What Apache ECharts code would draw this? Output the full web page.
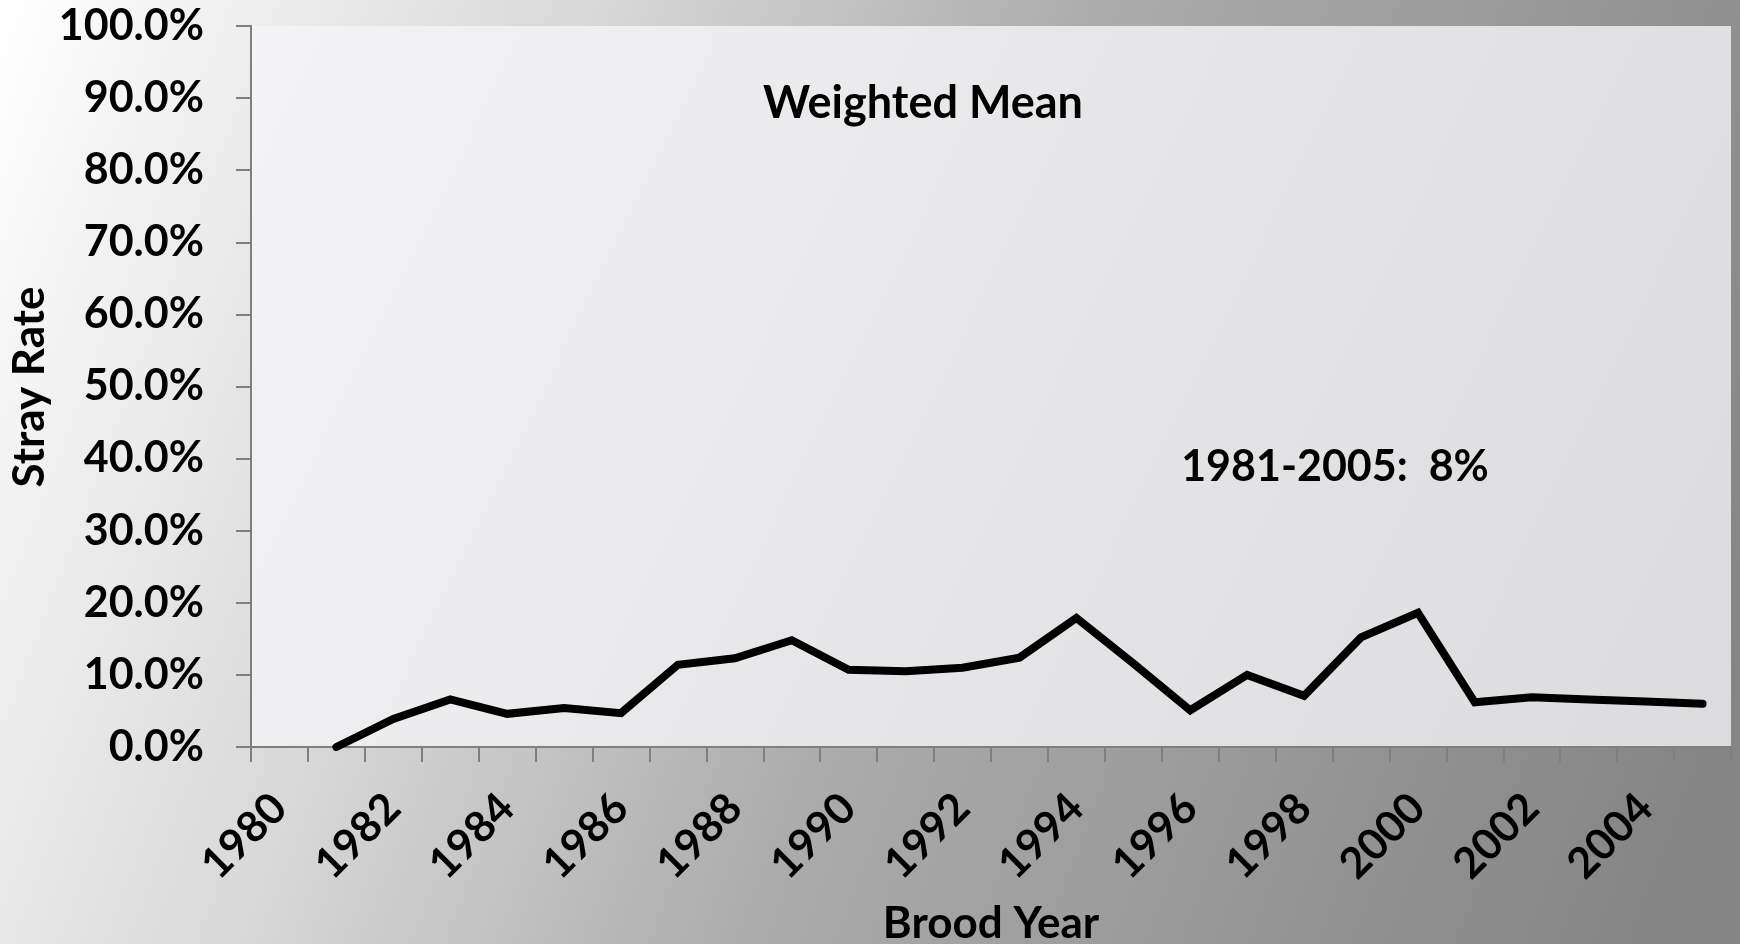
<!DOCTYPE html>
<html>
<head>
<meta charset="utf-8">
<script src="https://cdn.jsdelivr.net/npm/echarts@6/dist/echarts.min.js"></script>
<style>
html,body{margin:0;padding:0;width:1740px;height:944px;overflow:hidden;}
#chart{width:1740px;height:944px;}
</style>
</head>
<body>
<div id="chart"></div>
<script>
// Data
const years = ['1980','1981','1982','1983','1984','1985','1986','1987','1988','1989','1990','1991','1992','1993','1994','1995','1996','1997','1998','1999','2000','2001','2002','2003','2004','2005'];
const strayRate = [null,0.0,3.9,6.6,4.6,5.4,4.7,11.4,12.3,14.8,10.7,10.5,11.0,12.4,17.9,11.6,5.1,10.0,7.1,15.2,18.6,6.2,6.9,6.6,6.3,6.0];
const yTicks = [0,10,20,30,40,50,60,70,80,90,100];
const titleText = 'Weighted Mean';
const noteText = '1981-2005:  8%';
const yName = 'Stray Rate';
const xName = 'Brood Year';

const FONT = 'Lato';
const chart = echarts.init(document.getElementById('chart'), null, {renderer:'canvas'});
chart.setOption({
  animation:false,
  backgroundColor:{type:'linear',x:0,y:0,x2:1,y2:0.7,colorStops:[
    {offset:0,color:'#ffffff'},{offset:0.3,color:'#d8d8d8'},{offset:0.55,color:'#acacac'},{offset:1,color:'#858585'}]},
  grid:{left:251,right:9,top:26,bottom:197,containLabel:false,outerBoundsMode:'none',show:true,borderWidth:0,
    backgroundColor:{type:'linear',x:0,y:0,x2:1,y2:1,colorStops:[{offset:0,color:'#f4f4f6'},{offset:0.5,color:'#e6e6e8'},{offset:1,color:'#dcdcde'}]}},
  xAxis:{type:'category',data:years,boundaryGap:true,
    axisLine:{lineStyle:{color:'#7f7f7f',width:2}},
    axisTick:{show:true,interval:0,length:15,lineStyle:{color:'#7f7f7f',width:2}},
    axisLabel:{interval:1,rotate:45,margin:54,color:'#000',fontFamily:FONT,fontWeight:'bold',fontSize:43},
    splitLine:{show:false}},
  yAxis:{type:'value',min:0,max:100,interval:10,
    axisLine:{show:true,lineStyle:{color:'#7f7f7f',width:2}},
    axisTick:{show:true,length:15,lineStyle:{color:'#7f7f7f',width:2}},
    axisLabel:{margin:47,color:'#000',fontFamily:FONT,fontWeight:'bold',fontSize:43,
      formatter:function(v){return yTicks.indexOf(v)>=0 ? v.toFixed(1)+'%' : '';}},
    splitLine:{show:false}},
  graphic:[
    {type:'text',x:923,y:103,style:{text:titleText,fontFamily:FONT,fontWeight:'bold',fontSize:45,fill:'#000',align:'center',verticalAlign:'middle'}},
    {type:'text',x:1335,y:467,style:{text:noteText,fontFamily:FONT,fontWeight:'bold',fontSize:43,fill:'#000',align:'center',verticalAlign:'middle'}},
    {type:'text',x:30,y:387,rotation:Math.PI/2,style:{text:yName,fontFamily:FONT,fontWeight:'bold',fontSize:44,fill:'#000',align:'center',verticalAlign:'middle'}},
    {type:'text',x:991,y:924,style:{text:xName,fontFamily:FONT,fontWeight:'bold',fontSize:44,fill:'#000',align:'center',verticalAlign:'middle'}}
  ],
  series:[{type:'line',data:strayRate,symbol:'none',connectNulls:false,
    lineStyle:{color:'#000',width:8,join:'miter',cap:'round'}}]
});
</script>
</body>
</html>
